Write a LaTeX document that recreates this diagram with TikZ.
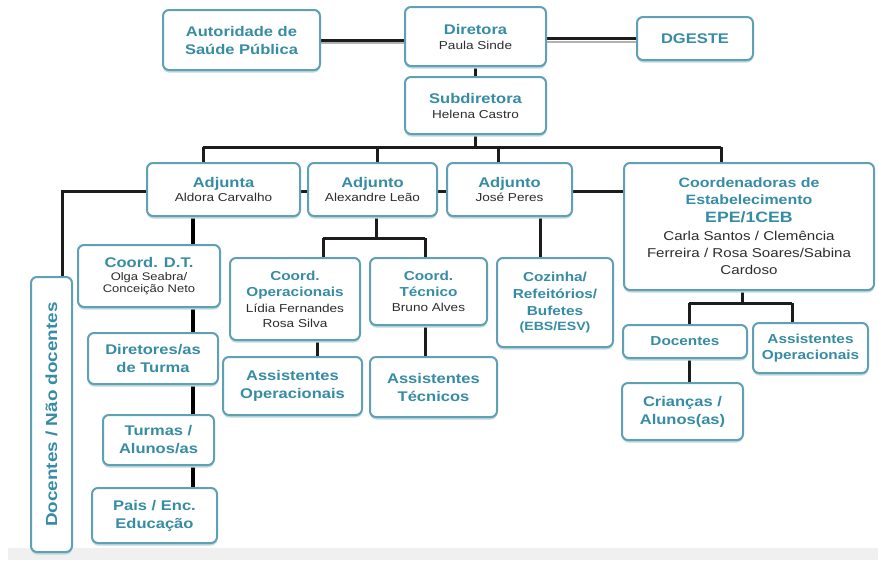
\documentclass[tikz,border=0pt]{standalone}
\usepackage{fontspec}
\setmainfont{Liberation Sans}[FakeStretch=1.18]
\usetikzlibrary{shadows,calc,backgrounds}
\definecolor{boxline}{RGB}{95,160,180}
\definecolor{ttlcol}{RGB}{55,140,165}
\definecolor{nmcol}{RGB}{45,45,45}
\definecolor{linecol}{RGB}{28,28,28}
\newcommand\nmtxt[1]{{\fontsize{11.5}{14}\selectfont\mdseries\color{nmcol}#1}}
\newcommand\bgtxt[1]{{\fontsize{12.8}{15}\selectfont\mdseries\color{nmcol}#1}}
\newcommand\smtxt[1]{{\fontsize{11}{12}\selectfont\mdseries\color{nmcol}#1}}
\begin{document}
\begin{tikzpicture}[x=1pt,y=-1pt,
  box/.style={draw=boxline,line width=2pt,rounded corners=6pt,fill=white,align=center,
    inner sep=2pt,font=\fontsize{14}{18}\selectfont\bfseries,text=ttlcol,
    drop shadow={shadow xshift=0pt,shadow yshift=-2.5pt,fill=boxline!40,opacity=1}},
  conn/.style={draw=linecol,line width=3pt},
  spine/.style={draw=black,line width=4.5pt},
  shadeline/.style={draw=gray!60,line width=2pt}]
\useasboundingbox (0,0) rectangle (878,560);
\fill[gray!12] (8,548) rectangle (878,560);

% top
\node[box,minimum width=157pt,minimum height=60pt] (aut) at (241.5,40) {Autoridade de\\Saúde Pública};
\node[box,minimum width=141pt,minimum height=59pt] (dir) at (475.5,36.5) {Diretora\\[-3pt]\nmtxt{Paula Sinde}};
\node[box,minimum width=116pt,minimum height=43pt] (dge) at (695,38.5) {DGESTE};
\node[box,minimum width=141pt,minimum height=57pt] (sub) at (475.5,105.5) {Subdiretora\\[-3pt]\nmtxt{Helena Castro}};

% second row
\node[box,minimum width=153pt,minimum height=53pt] (adj1) at (223.5,189.5) {Adjunta\\[-4pt]\nmtxt{Aldora Carvalho}};
\node[box,minimum width=129pt,minimum height=53pt] (adj2) at (372.5,189.5) {Adjunto\\[-4pt]\nmtxt{Alexandre Leão}};
\node[box,minimum width=125pt,minimum height=53pt] (adj3) at (509.5,189.5) {Adjunto\\[-4pt]\nmtxt{José Peres}};
\node[box,minimum width=250pt,minimum height=127pt,font=\fontsize{13.5}{17}\selectfont\bfseries] (coo) at (749,226.5)
  {Coordenadoras de\\Estabelecimento\\[1pt]{\fontsize{15}{18}\selectfont EPE/1CEB}\\[1pt]\bgtxt{Carla Santos / Clemência}\\[0pt]\bgtxt{Ferreira / Rosa Soares/Sabina}\\[0pt]\bgtxt{Cardoso}};

% left column
\node[box,rotate=90,minimum width=275pt,minimum height=41pt,font=\fontsize{16}{18}\selectfont\bfseries] (doc) at (51.5,414.5) {Docentes / Não docentes};
\node[box,minimum width=142pt,minimum height=62pt] (cdt) at (149,276) {Coord. D.T.\\[-5pt]\smtxt{Olga Seabra/}\\[-6pt]\smtxt{Conceição Neto}};
\node[box,minimum width=130pt,minimum height=51pt] (dtu) at (153,358.5) {Diretores/as\\de Turma};
\node[box,minimum width=111pt,minimum height=50pt] (tur) at (158.5,440) {Turmas /\\Alunos/as};
\node[box,minimum width=125pt,minimum height=55pt] (pai) at (154.5,515.5) {Pais / Enc.\\Educação};

% middle
\node[box,minimum width=130pt,minimum height=82pt,font=\fontsize{13}{16}\selectfont\bfseries] (cop) at (295,299) {Coord.\\Operacionais\\[0pt]\nmtxt{Lídia Fernandes}\\[-1pt]\nmtxt{Rosa Silva}};
\node[box,minimum width=117pt,minimum height=67pt,font=\fontsize{13}{16}\selectfont\bfseries] (cte) at (428.5,291.5) {Coord.\\Técnico\\[-1pt]\nmtxt{Bruno Alves}};
\node[box,minimum width=116pt,minimum height=89pt,font=\fontsize{13}{17}\selectfont\bfseries] (coz) at (555,302.5) {Cozinha/\\Refeitórios/\\Bufetes\\[-2pt]{\fontsize{12}{14}\selectfont (EBS/ESV)}};
\node[box,minimum width=139pt,minimum height=58pt] (aso) at (292.5,386) {Assistentes\\Operacionais};
\node[box,minimum width=127pt,minimum height=60pt] (ast) at (433.5,387) {Assistentes\\Técnicos};

% right
\node[box,minimum width=124pt,minimum height=33pt,font=\fontsize{13}{16}\selectfont\bfseries] (dcs) at (685,341.5) {Docentes};
\node[box,minimum width=115pt,minimum height=50pt,font=\fontsize{13}{16}\selectfont\bfseries] (aso2) at (810.5,348) {Assistentes\\Operacionais};
\node[box,minimum width=121pt,minimum height=57pt] (cri) at (682.5,411.5) {Crianças /\\Alunos(as)};

% bus points
\coordinate (busA) at (203,147);
\coordinate (busB) at (377,147);
\coordinate (busC) at (498,147);
\coordinate (busD) at (721,147);
\coordinate (ladj) at (62,191);
\coordinate (b2L) at (323,238);
\coordinate (b2R) at (425,238);
\coordinate (b3L) at (689,303);
\coordinate (b3R) at (792,303);

\begin{scope}[on background layer]
  \draw[shadeline] ([yshift=-3pt]aut.east) -- ([yshift=-3pt]aut.east -| dir.west);
  \draw[conn] (aut.east) -- (aut.east -| dir.west);
  \draw[shadeline] ([yshift=-3pt]dir.east |- dge.west) -- ([yshift=-3pt]dge.west);
  \draw[conn] (dir.east |- dge.west) -- (dge.west);
  \draw[conn] (dir.south) -- (sub.north);
  % bus to row 2
  \draw[conn] (sub.south) -- (sub.south |- busA);
  \draw[conn] (busA) -- (busD);
  \draw[conn] (busA) -- (busA |- adj1.north);
  \draw[conn] (busB) -- (busB |- adj2.north);
  \draw[conn] (busC) -- (busC |- adj3.north);
  \draw[conn] (busD) -- (busD |- coo.north);
  % row 2 links
  \draw[conn] (adj1.east |- 0,191) -- (adj2.west |- 0,191);
  \draw[conn] (adj2.east |- 0,191) -- (adj3.west |- 0,191);
  \draw[conn] (adj3.east |- 0,191) -- (coo.west |- 0,191);
  \draw[conn] (adj1.west |- ladj) -- (ladj) -- (ladj |- doc.east);
  % left spine
  \draw[spine] (adj1.south -| 193,0) -- (cdt.north -| 193,0);
  \draw[spine] (cdt.south -| 193,0) -- (dtu.north -| 193,0);
  \draw[spine] (dtu.south -| 193,0) -- (tur.north -| 193,0);
  \draw[spine] (tur.south -| 193,0) -- (pai.north -| 193,0);
  % adjunto 2 subtree
  \draw[conn] (adj2.south -| 376,0) -- (376,238);
  \draw[conn] (b2L) -- (b2R);
  \draw[conn] (b2L) -- (b2L |- cop.north);
  \draw[conn] (b2R) -- (b2R |- cte.north);
  \draw[conn] (cop.south -| 317,0) -- (aso.north -| 317,0);
  \draw[conn] (cte.south -| 425,0) -- (ast.north -| 425,0);
  % adjunto 3
  \draw[conn] (adj3.south -| 540,0) -- (coz.north -| 540,0);
  % coordenadoras subtree
  \draw[conn] (coo.south -| 742,0) -- (742,303);
  \draw[conn] (b3L) -- (b3R);
  \draw[conn] (b3L) -- (b3L |- dcs.north);
  \draw[conn] (b3R) -- (b3R |- aso2.north);
  \draw[conn] (dcs.south -| 689,0) -- (cri.north -| 689,0);
\end{scope}
\end{tikzpicture}
\end{document}
